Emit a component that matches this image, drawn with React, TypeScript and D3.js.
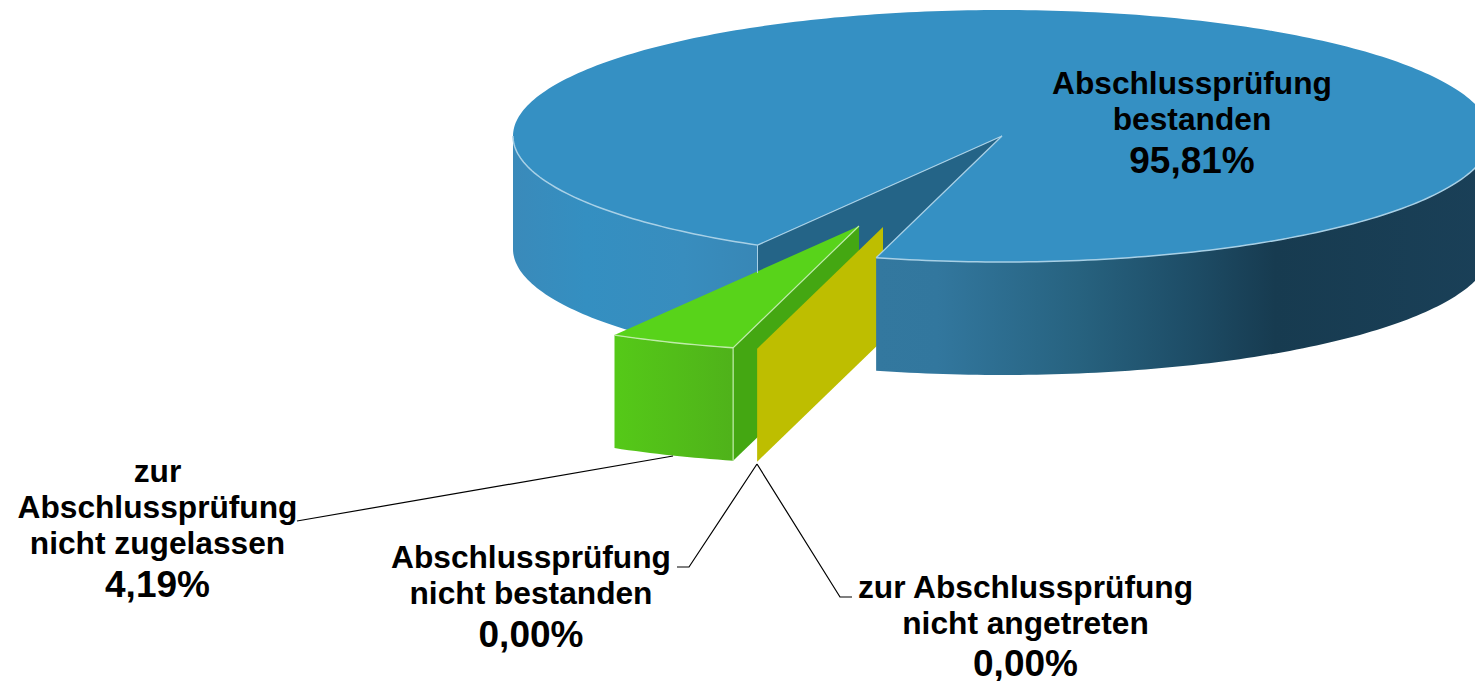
import React from "react";
import * as d3 from "d3";

const categories = [
  "Abschlussprüfung bestanden",
  "Abschlussprüfung nicht bestanden",
  "zur Abschlussprüfung nicht angetreten",
  "zur Abschlussprüfung nicht zugelassen",
];
const values = [95.81, 0, 0, 4.19];
const valueLabels = ["95,81%", "0,00%", "0,00%", "4,19%"];
const labelLines = [
  ["Abschlussprüfung", "bestanden"],
  ["Abschlussprüfung", "nicht bestanden"],
  ["zur Abschlussprüfung", "nicht angetreten"],
  ["zur", "Abschlussprüfung", "nicht zugelassen"],
];
const labelCenters = [1192, 531, 1025.5, 157.5];
const labelBaselines = [
  [94, 130, 173],
  [568, 604, 647],
  [598, 634, 676],
  [482, 518, 554, 597],
];
const leaders = [
  [[673, 456], [297, 521]],
  [[757, 464], [689, 567], [677, 567]],
  [[757, 464], [840, 597], [852, 597]],
];

const W = 1475, H = 681;
const cx = 1002, cy = 136, rx = 489, ry = 126, depth = 113;
const offsets: Record<number, [number, number]> = { 0: [0, 0], 1: [-119, 91], 2: [-119, 91], 3: [-143, 90] };
const RIM = "#a8d0e6";

const deg = Math.PI / 180;
const pie = d3.pie<number>().sort(null).startAngle(210 * deg).endAngle(570 * deg);
const slices = pie(values);

const px = d3.scaleLinear().domain([-1, 1]).range([cx - rx, cx + rx]);
const py = d3.scaleLinear().domain([-1, 1]).range([cy - ry, cy + ry]);
type P = [number, number];
const pt = (a: number, o: P = [0, 0], dz = 0): P => [px(Math.sin(a)) + o[0], py(-Math.cos(a)) + o[1] + dz];
const apex = (o: P = [0, 0], dz = 0): P => [cx + o[0], cy + o[1] + dz];
const arcPts = (a0: number, a1: number, o: P = [0, 0], dz = 0): P[] => {
  const n = Math.max(2, Math.ceil(Math.abs(a1 - a0) / (1 * deg)));
  return d3.range(n + 1).map((i) => pt(a0 + ((a1 - a0) * i) / n, o, dz));
};
const line = d3.line<P>();
const closed = (p: P[]) => (line(p) as string) + "Z";
const open = (p: P[]) => line(p) as string;

const main = slices[0], green = slices[3], yellow = slices[1];
const o3 = offsets[3], o1 = offsets[1];
const mStart = main.startAngle, mEnd = main.endAngle;

const face = (a0: number, a1: number, o: P = [0, 0]) =>
  closed([...arcPts(a0, a1, o), ...arcPts(a1, a0, o, depth)]);
const wall = (a: number, o: P = [0, 0]) =>
  closed([apex(o), pt(a, o), pt(a, o, depth), apex(o, depth)]);
const top = (a0: number, a1: number, o: P = [0, 0]) => closed([apex(o), ...arcPts(a0, a1, o)]);

const FONT = "'Liberation Sans', Arial, sans-serif";

export default function App() {
  return (
    <svg width={W} height={H} viewBox={`0 0 ${W} ${H}`} style={{ position: "absolute", left: 0, top: 0, background: "#fff" }}>
      <defs>
        <linearGradient id="gLeft" gradientUnits="userSpaceOnUse" x1={513} x2={757} y1={0} y2={0}>
          <stop offset="0" stopColor="#3a8aba" />
          <stop offset="0.3" stopColor="#348fc1" />
          <stop offset="0.7" stopColor="#388dbe" />
          <stop offset="1" stopColor="#3887b6" />
        </linearGradient>
        <linearGradient id="gRight" gradientUnits="userSpaceOnUse" x1={876} x2={1491} y1={0} y2={0}>
          <stop offset="0" stopColor="#33789f" />
          <stop offset="0.1" stopColor="#32779e" />
          <stop offset="0.33" stopColor="#27627f" />
          <stop offset="0.5" stopColor="#1e4e68" />
          <stop offset="0.65" stopColor="#173b50" />
          <stop offset="1" stopColor="#1a4058" />
        </linearGradient>
        <linearGradient id="gGreen" gradientUnits="userSpaceOnUse" x1={615} x2={733} y1={0} y2={0}>
          <stop offset="0" stopColor="#55c918" />
          <stop offset="1" stopColor="#4fb21a" />
        </linearGradient>
      </defs>

      {/* main slice: left front face and inner wall */}
      <path d={face(270 * deg, mStart)} fill="url(#gLeft)" />
      <path d={wall(mStart)} fill="#246487" />

      {/* exploded green slice */}
      <g>
        <path d={wall(green.startAngle, o3)} fill="#44a712" />
        <path d={face(green.startAngle, green.endAngle, o3)} fill="url(#gGreen)" />
        <path d={top(green.startAngle, green.endAngle, o3)} fill="#58d31a" />
        <path d={open([apex(o3), pt(green.startAngle, o3), pt(green.startAngle, o3, depth)])} fill="none" stroke="#c0ecaa" strokeWidth={1.2} />
        <path d={open(arcPts(green.startAngle, green.endAngle, o3))} fill="none" stroke="#c0ecaa" strokeWidth={1.4} />
      </g>

      {/* zero slices collapse to a single yellow wall */}
      <path d={wall(yellow.startAngle, o1)} fill="#bebe00" />

      {/* main slice: top and right front face */}
      <path d={top(mStart, mEnd)} fill="#3590c3" />
      <path d={face(mEnd, 450 * deg)} fill="url(#gRight)" />
      <path d={open(arcPts(270 * deg, mStart))} fill="none" stroke={RIM} strokeWidth={1.5} />
      <path d={open(arcPts(mEnd, 450 * deg))} fill="none" stroke={RIM} strokeWidth={1.5} />
      <path d={open([pt(mStart), apex(), pt(mEnd)])} fill="none" stroke={RIM} strokeWidth={1.3} />
      <path d={open([pt(mStart), pt(mStart, [0, 0], 28)])} fill="none" stroke={RIM} strokeWidth={1} />

      {/* leaders */}
      {leaders.map((l, i) => (
        <path key={i} d={open(l as P[])} fill="none" stroke="#000" strokeWidth={1.2} />
      ))}

      {/* labels */}
      {categories.map((c, i) => {
        const lines = labelLines[i];
        const b = labelBaselines[i];
        return (
          <text key={c} textAnchor="middle" fontFamily={FONT} fontWeight="bold" fill="#000">
            {lines.map((t, j) => (
              <tspan key={j} x={labelCenters[i]} y={b[j]} fontSize={31.7}>{t}</tspan>
            ))}
            <tspan x={labelCenters[i]} y={b[lines.length]} fontSize={37}>{valueLabels[i]}</tspan>
          </text>
        );
      })}
    </svg>
  );
}
